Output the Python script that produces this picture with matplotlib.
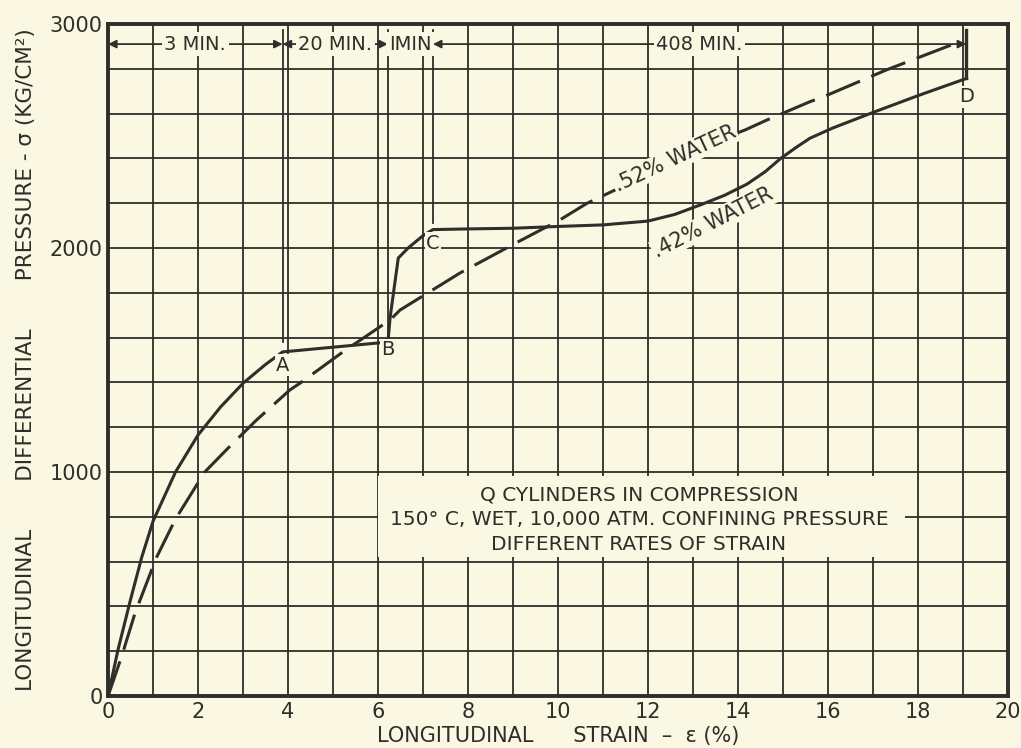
import matplotlib
matplotlib.use("Agg")
import matplotlib.pyplot as plt
from matplotlib.patches import Rectangle

# solid curve: .42% water (points A, B, C, D on it)
strain_42 = [0, 0.22, 0.5, 0.75, 1.0, 1.5, 2.0, 2.5, 3.0, 3.5, 3.88,
             6.22, 6.27, 6.45, 6.67, 7.0, 7.22, 8.0, 9.0, 10.0, 11.0,
             12.0, 12.6, 13.2, 13.7, 14.2, 14.6, 14.95, 15.3, 15.6, 16.1,
             17.0, 18.0, 19.08]
stress_42 = [0, 205, 430, 620, 780, 1000, 1165, 1290, 1396, 1480, 1536,
             1580, 1692, 1955, 2000, 2055, 2082, 2085, 2088, 2096, 2103,
             2120, 2150, 2195, 2235, 2285, 2340, 2400, 2450, 2490, 2535,
             2605, 2680, 2757]

# dashed curve: .52% water
strain_52 = [0, 0.3, 0.6, 1.08, 1.5, 2.15, 2.67, 3.3, 4.04, 4.27, 5.22,
             6.27, 6.49, 7.82, 9.08, 10.04, 10.64, 11.89, 13.0, 14.16,
             14.64, 15.6, 15.9, 17.3, 18.93]
stress_52 = [0, 175, 370, 620, 790, 1000, 1107, 1232, 1366, 1397, 1536,
             1679, 1723, 1888, 2024, 2125, 2199, 2318, 2438, 2527,
             2571, 2653, 2675, 2795, 2921]

# labelled points and time intervals
point_names = ["A", "B", "C", "D"]
point_strain = [3.88, 6.22, 7.22, 19.07]
interval_names = ["3 MIN.", "20 MIN.", "IMIN", "408 MIN."]
interval_edges = [0, 3.88, 6.22, 7.22, 19.07]

bg = "#faf8e2"
ink = "#2e2e2a"

plt.rcParams["font.family"] = ["DejaVu Sans"]

fig = plt.figure(figsize=(10.21, 7.48), dpi=100)
fig.patch.set_facecolor(bg)
ax = fig.add_axes([0.1058, 0.0695, 0.8815, 0.8985])
ax.set_facecolor(bg)

ax.set_xlim(0, 20)
ax.set_ylim(0, 3000)
ax.set_xticks(range(0, 21, 2))
ax.set_xticks(range(0, 21, 1), minor=True)
ax.set_yticks([0, 1000, 2000, 3000])
ax.set_yticks(range(0, 3001, 200), minor=True)
ax.grid(True, which="both", color=ink, lw=1.3, zorder=1)
ax.tick_params(which="both", length=0, labelsize=15, colors=ink, pad=4)
for s in ax.spines.values():
    s.set_linewidth(2.8)
    s.set_color(ink)
    s.set_zorder(5)

# curves
ax.plot(strain_42, stress_42, color=ink, lw=2.2, zorder=4)
ax.plot(strain_52, stress_52, color=ink, lw=2.2, dashes=(12, 4), zorder=4)

# vertical markers from the time row down to the points
marker_bottom = [1580, 1620, 2110, 2757]
for x, yb in zip(point_strain, marker_bottom):
    ax.plot([x, x], [yb, 2975], color=ink, lw=1.3 if x < 19 else 2.4, zorder=3)

# point letters
letter_y = [1477, 1545, 2022, 2674]
for name, x, y in zip(point_names, point_strain, letter_y):
    ax.text(x, y, name, ha="center", va="center", fontsize=14, color=ink,
            zorder=6, bbox=dict(fc=bg, ec="none", pad=1))

# time row
row_y = 2910
for i, name in enumerate(interval_names):
    x0, x1 = interval_edges[i], interval_edges[i + 1]
    if name != "IMIN":
        ax.annotate("", xy=(x0, row_y), xytext=(x1, row_y),
                    arrowprops=dict(arrowstyle="<|-|>", color=ink, lw=1.3,
                                    mutation_scale=12, shrinkA=0, shrinkB=0),
                    zorder=4)
    ax.text((x0 + x1) / 2, row_y, name, ha="center", va="center", fontsize=14,
            color=ink, zorder=6, bbox=dict(fc=bg, ec="none", pad=2))

# curve labels
ax.text(12.6, 2400, ".52% WATER", rotation=25, ha="center", va="center",
        fontsize=15, color=ink, zorder=6, bbox=dict(fc=bg, ec="none", pad=1))
ax.text(13.45, 2115, ".42% WATER", rotation=27, ha="center", va="center",
        fontsize=15, color=ink, zorder=3, bbox=dict(fc=bg, ec="none", pad=1))

# description box
ax.add_patch(Rectangle((6.0, 620), 11.7, 360, fc=bg, ec="none", zorder=2))
ax.text(11.8, 786, "Q CYLINDERS IN COMPRESSION\n"
        "150° C, WET, 10,000 ATM. CONFINING PRESSURE\n"
        "DIFFERENT RATES OF STRAIN",
        ha="center", va="center", fontsize=14.5, color=ink, linespacing=1.4,
        zorder=6)

ax.set_xlabel("LONGITUDINAL      STRAIN  –  ε (%)", fontsize=15, color=ink,
              labelpad=3)
ax.set_ylabel("LONGITUDINAL       DIFFERENTIAL       PRESSURE - σ (KG/CM²)",
              fontsize=15.5, color=ink, labelpad=10)

fig.savefig("out.png", dpi=100, facecolor=bg)
